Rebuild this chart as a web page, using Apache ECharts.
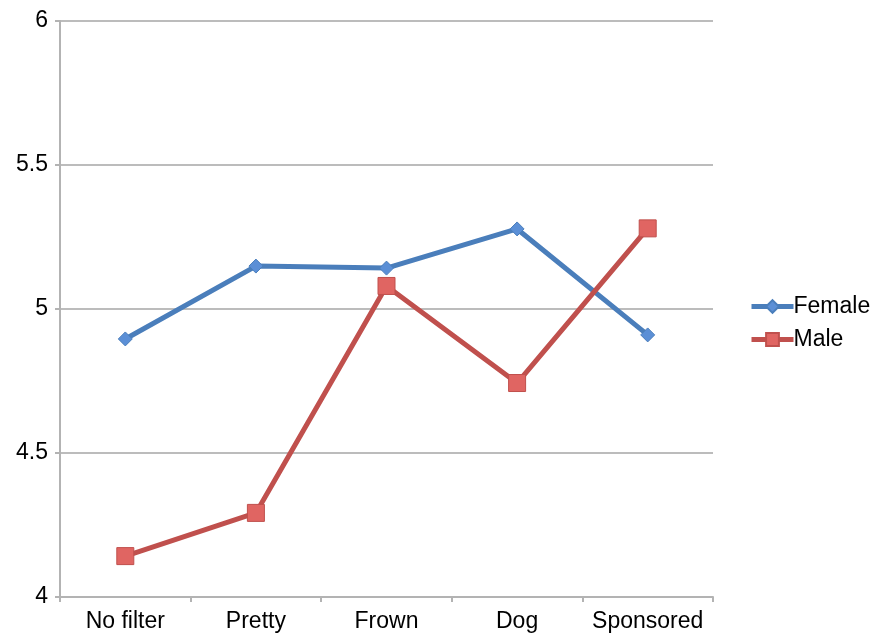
<!DOCTYPE html>
<html><head><meta charset="utf-8">
<script src="https://cdn.jsdelivr.net/npm/echarts@6/dist/echarts.min.js"></script>
<style>html,body{margin:0;padding:0;background:#fff}#c{width:878px;height:637px}</style>
</head><body><div id="c"></div>
<script>
const categories = ['No filter', 'Pretty', 'Frown', 'Dog', 'Sponsored'];
const female = [4.896, 5.149, 5.142, 5.278, 4.91];
const male = [4.142, 4.292, 5.08, 4.743, 5.28];
const yTicks = [4, 4.5, 5, 5.5, 6];

const chart = echarts.init(document.getElementById('c'));
const font = 'Liberation Sans, Arial, sans-serif';
chart.setOption({
  animation: false,
  grid: { left: 60, right: 165, top: 21, bottom: 40, containLabel: false },
  legend: {
    orient: 'vertical', left: 744, top: 290, itemGap: 10,
    itemWidth: 42, itemHeight: 16,
    lineStyle: { width: 5 },
    textStyle: { fontFamily: font, fontSize: 23, color: '#000', padding: [0,0,0,-5] },
    data: ['Female', 'Male']
  },
  xAxis: {
    type: 'category', data: categories, boundaryGap: true,
    axisLine: { lineStyle: { color: '#b3b3b3', width: 2 } },
    axisTick: { show: true, length: 5, lineStyle: { color: '#b3b3b3', width: 2 } },
    axisLabel: { fontFamily: font, fontSize: 23, color: '#000', margin: 13, interval: 0 }
  },
  yAxis: {
    type: 'value', min: 4, max: 6, interval: 0.5,
    axisLine: { show: true, lineStyle: { color: '#b3b3b3', width: 2 } },
    axisTick: { show: true, length: 5, lineStyle: { color: '#b3b3b3', width: 2 } },
    splitLine: { lineStyle: { color: '#a6a6a6', width: 1.5 } },
    axisLabel: { fontFamily: font, fontSize: 23, color: '#000', margin: 12,
      formatter: v => yTicks.includes(v) ? String(v) : '' }
  },
  series: [
    { name: 'Female', type: 'line', data: female, symbol: 'diamond', symbolSize: 14,
      lineStyle: { color: '#4a7ebb', width: 5 },
      itemStyle: { color: '#5b8fd6', borderColor: '#4a7ebb', borderWidth: 1 } },
    { name: 'Male', type: 'line', data: male, symbol: 'rect', symbolSize: 17,
      lineStyle: { color: '#c0504d', width: 5 },
      itemStyle: { color: '#e06562', borderColor: '#c0504d', borderWidth: 1 } }
  ]
});
</script></body></html>
